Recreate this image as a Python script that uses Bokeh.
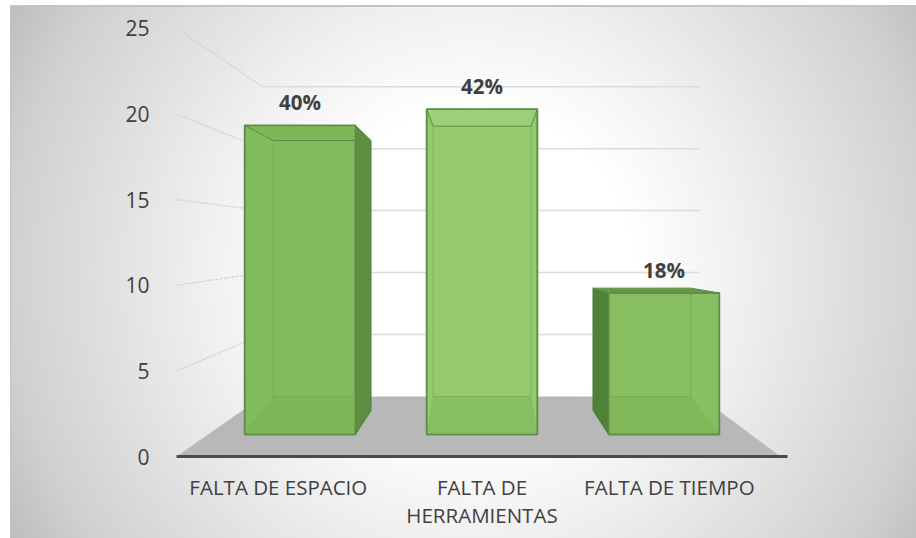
from bokeh.plotting import figure
from bokeh.models import FixedTicker
from bokeh.core.properties import value
from bokeh.embed import file_html
from bokeh.resources import INLINE

categories = ["FALTA DE ESPACIO", "FALTA DE\nHERRAMIENTAS", "FALTA DE TIEMPO"]
values = [19, 20, 8.7]
percent_labels = ["40%", "42%", "18%"]
y_ticks = [0, 5, 10, 15, 20, 25]
label_positions = [0, 1, 1.92]

FONT = "Open Sans"
TXT = "#404040"

# simple perspective of the 3-D box
FRONT_SPREAD, BACK_SPREAD = 0.8935, 0.785
FRONT_HW, BACK_HW = 0.272, 0.24
WALL_LEFT, WALL_RIGHT = -0.078, 2.07
X0, X1 = -0.5, 2.5
FLOOR_TIP = 2.465

def wall_y(v):
    return 3.5 + 0.724 * v

def front_y(v):
    return 1.285 + 0.95 * v

def back_top(v):
    return 1.42 + 0.881 * front_y(v)

FLOOR_Y = wall_y(0)
SIDE_BOTTOM = 2.69

p = figure(width=906, height=533, x_range=(X0, X1), y_range=(0, 26.34),
           toolbar_location=None, output_backend="svg",
           min_border_left=166, min_border_right=129, min_border_top=0, min_border_bottom=82,
           border_fill_color=None, background_fill_color=None, outline_line_color=None)
p.styles = {
    "margin-left": "10px", "margin-top": "5px",
    "background": "radial-gradient(circle farthest-corner at 51% 50%, #ffffff 30%, #f0f0f0 50%, #d0d0d0 87%, #bdbdbd 100%)",
    "box-shadow": "inset 1px 2px 0 #c4c4c4",
}
p.grid.visible = False

ax = p.xaxis[0]
ax.ticker = FixedTicker(ticks=label_positions)
ax.major_label_overrides = {k: c for k, c in zip(label_positions, categories)}
ax.major_tick_line_color = None
ax.minor_tick_line_color = None
ax.axis_line_color = "#4a4a4a"
ax.axis_line_width = 3
ax.major_label_standoff = 10
ax.major_label_text_font = FONT
ax.major_label_text_font_size = "20.5px"
ax.major_label_text_color = TXT
ax.major_label_text_line_height = 1.0

ay = p.yaxis[0]
ay.ticker = FixedTicker(ticks=y_ticks)
ay.axis_line_color = None
ay.major_tick_line_color = None
ay.minor_tick_line_color = None
ay.major_label_standoff = 21
ay.major_label_text_font = FONT
ay.major_label_text_font_size = "21px"
ay.major_label_text_color = TXT

# floor
p.patch([X0, FLOOR_TIP, WALL_RIGHT, WALL_LEFT], [0, 0, FLOOR_Y, FLOOR_Y], fill_color="#b8b8b8", line_color=None)

# wall grid lines and their left-side returns
for t in y_ticks[1:]:
    p.line([WALL_LEFT, WALL_RIGHT], [wall_y(t), wall_y(t)], line_color="#dcdcdc", line_width=1.5)
    p.line([X0, WALL_LEFT], [t, wall_y(t)], line_color="#d2d2d2", line_width=1.2, line_dash="3 1")

styles = [
    dict(front="#82ba5e", top="#7fb65a", side="#5c8f42"),
    dict(front="#94c970", top="#9ccf79", side=None),
    dict(front="#87bf62", top="#5f9a40", side="#4f8136"),
]
EDGE = "#5f8c47"
INNER = "#72a853"

for i, v in enumerate(values):
    st = styles[i]
    cf = 1 + (i - 1) * FRONT_SPREAD
    cb = 1 + (i - 1) * BACK_SPREAD
    fl, fr = cf - FRONT_HW, cf + FRONT_HW
    bl, br = cb - BACK_HW, cb + BACK_HW
    base = front_y(0)
    ft, bt = front_y(v), back_top(v)

    # dark outer side (right of bar 1, left of bar 3)
    if i == 0:
        p.patch([fr, br, br, fr], [ft, bt, SIDE_BOTTOM, base], fill_color=st["side"], line_color="#4f7c38", line_width=1)
    if i == 2:
        p.patch([fl, bl, bl, fl], [ft, bt, SIDE_BOTTOM, base], fill_color=st["side"], line_color="#4f7c38", line_width=1)

    # front face
    p.patch([fl, fr, fr, fl], [ft, ft, base, base], fill_color=st["front"], line_color=EDGE, line_width=1.5)

    # top face: seen from below it stays inside the face, seen from above it rises over it
    top_r = min(br, fr) if bt < ft else br
    p.patch([fl, fr, top_r, bl], [ft, ft, bt, bt], fill_color=st["top"], line_color=EDGE, line_width=1)

    # floor band, seen through the face
    ix0, ix1 = max(bl, fl), min(br, fr)
    p.patch([fl, fr, ix1, ix0], [base, base, FLOOR_Y, FLOOR_Y], fill_color="#76ae50", fill_alpha=0.4, line_color=None)
    p.line([ix0, ix1], [FLOOR_Y, FLOOR_Y], line_color=INNER, line_width=1, line_alpha=0.7)

    # inner edges, seen through the face
    up = max(bt, ft) if bt > ft else bt
    p.line([ix0, ix0], [up, FLOOR_Y], line_color=INNER, line_width=1, line_alpha=0.7)
    p.line([ix1, ix1], [up, FLOOR_Y], line_color=INNER, line_width=1, line_alpha=0.7)
    p.line([fl, ix0], [base, FLOOR_Y], line_color=INNER, line_width=0.6, line_alpha=0.4)
    p.line([fr, ix1], [base, FLOOR_Y], line_color=INNER, line_width=0.6, line_alpha=0.4)
    p.line([fl, fr, fr, fl, fl], [ft, ft, base, base, ft], line_color=EDGE, line_width=1.5)

    p.text([cf], [ft], text=[percent_labels[i]], text_font=value(FONT), text_font_style="bold",
           text_font_size="20.5px", text_color=TXT, text_align="center", text_baseline="middle", y_offset=-23)

open("out.html", "w").write(file_html(p, INLINE))
